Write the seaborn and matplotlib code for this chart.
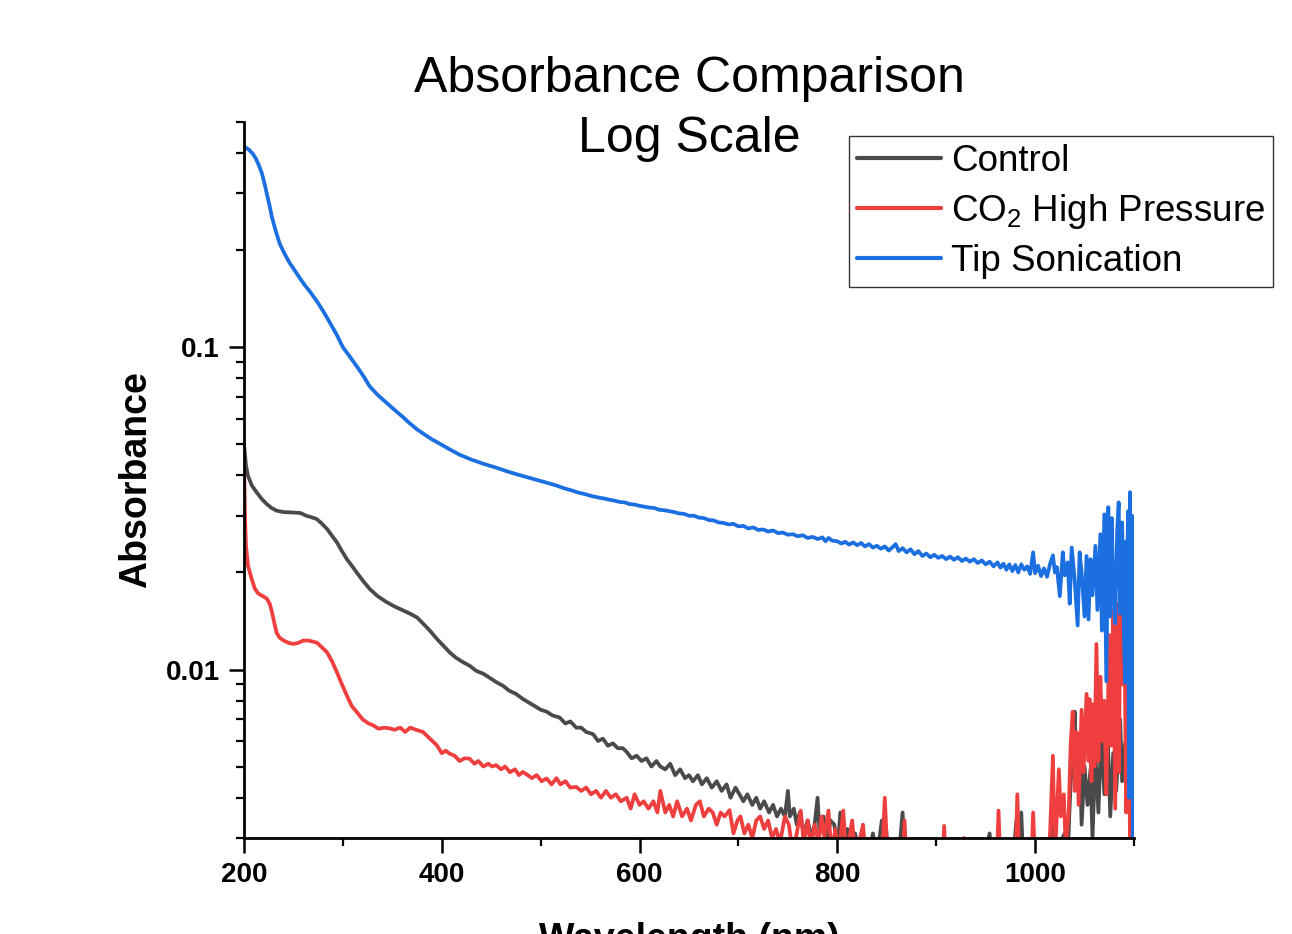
import matplotlib
matplotlib.use("Agg")
import matplotlib.pyplot as plt
from matplotlib import ticker
import pandas as pd
import seaborn as sns

# Control
control_wl = [200, 202, 204, 208, 213, 218, 223, 228, 233, 240, 250, 257, 263, 268, 273.5, 278, 284, 289, 294, 299,
              304, 309, 314, 320, 327, 335, 344, 352, 360, 368, 375, 381, 388, 395, 401, 408, 414, 420, 428, 435,
              442, 449, 455, 462, 468, 475, 482, 488, 494, 500, 506, 512, 519, 525, 530, 536, 541, 546, 553, 558,
              563, 568, 573, 578, 583, 587, 592, 597, 602, 607, 612, 617, 621, 626, 631, 636, 641, 646, 650, 654,
              659, 663, 668, 673, 678, 683, 688, 692, 697, 701, 705, 709, 714, 718, 722, 726, 731, 735, 739, 743,
              747, 750, 752, 756, 759, 762, 766, 770, 774, 777, 780, 782, 786, 789, 793, 797, 800, 803, 806, 810,
              814, 818, 822, 826, 830, 836, 840, 845, 849, 852, 857, 862, 866, 869, 875, 880, 890, 900, 910, 920,
              930, 940, 948, 954, 957, 965, 972, 978, 981, 983, 986, 988, 995, 1000, 1005, 1010, 1015, 1018, 1021, 1025,
              1030, 1033, 1036, 1038, 1040, 1042, 1045, 1047, 1050, 1053, 1056, 1058, 1061, 1064, 1067, 1070, 1073, 1076, 1079, 1082,
              1086, 1088, 1091, 1094, 1096, 1098, 1100]
control_abs = [0.050, 0.043, 0.0399, 0.0372, 0.0354, 0.0338, 0.0326, 0.0317, 0.0311, 0.0308, 0.0307, 0.0306, 0.0300, 0.0297, 0.0293, 0.0285, 0.0273, 0.0260, 0.0248, 0.0233,
               0.0220, 0.0210, 0.0200, 0.0189, 0.0178, 0.0169, 0.0162, 0.0157, 0.0153, 0.0149, 0.0145, 0.0139, 0.0132, 0.01245, 0.0119, 0.0113, 0.0109, 0.0106, 0.01028, 0.0099,
               0.0097, 0.0094, 0.00914, 0.0089, 0.0086, 0.0084, 0.0081, 0.0079, 0.0077, 0.0075, 0.0074, 0.0072, 0.0071, 0.0068, 0.0069, 0.0066, 0.0066, 0.0064, 0.0063, 0.0060,
               0.0061, 0.0058, 0.0059, 0.0057, 0.0057, 0.00555, 0.0053, 0.0054, 0.0052, 0.0053, 0.0050, 0.0052, 0.0050, 0.0049, 0.0051, 0.0047, 0.0049, 0.0046, 0.0047, 0.0045,
               0.0047, 0.0044, 0.0046, 0.0043, 0.0045, 0.0042, 0.0044, 0.0040, 0.0043, 0.0041, 0.0039, 0.0041, 0.0038, 0.0040, 0.0037, 0.0039, 0.0036, 0.0038, 0.0035, 0.0037,
               0.0035, 0.0042, 0.0035, 0.0037, 0.0033, 0.0036, 0.0031, 0.0034, 0.0030, 0.0033, 0.0040, 0.0031, 0.0035, 0.0029, 0.0034, 0.0033, 0.0027, 0.0036, 0.0028, 0.0032,
               0.0027, 0.0031, 0.0026, 0.0030, 0.0025, 0.0031, 0.0026, 0.0034, 0.0033, 0.0025, 0.0028, 0.0026, 0.0036, 0.0025, 0.0027, 0.0024, 0.0026, 0.0023, 0.0025, 0.0023,
               0.0026, 0.0024, 0.0026, 0.0031, 0.0024, 0.0027, 0.0023, 0.0026, 0.0034, 0.0027, 0.0036, 0.0025, 0.0028, 0.0024, 0.0027, 0.0025, 0.0030, 0.0034, 0.0026, 0.0029,
               0.0031, 0.0027, 0.0045, 0.0052, 0.0074, 0.0043, 0.0058, 0.0033, 0.0050, 0.0038, 0.0049, 0.0030, 0.0055, 0.0036, 0.0064, 0.0041, 0.0069, 0.0035, 0.0055, 0.0042,
               0.0070, 0.0045, 0.0059, 0.0062, 0.0033, 0.0055, 0.0028]

# CO2 High Pressure
co2_wl = [200, 201, 202, 204, 207.8, 211, 214.5, 219, 223, 226, 228, 231, 233, 236, 240, 245, 250, 255, 260, 265,
          270, 274, 279, 284, 289, 294, 299, 304, 309, 314, 320, 326, 331, 336, 342, 348, 352, 358, 363, 368,
          374, 381, 388, 395, 400, 404, 408, 413, 418, 423, 428, 433, 437, 442, 447, 451, 455, 460, 464, 469,
          474, 478, 482, 487, 491, 496, 501, 506, 511, 516, 520, 525, 530, 536, 541, 546, 551, 556, 561, 566,
          571, 576, 581, 587, 591, 595, 600, 604, 609, 614, 618, 621, 626, 630, 634, 638, 643, 648, 652, 657,
          661, 665, 670, 674, 678, 682, 686, 691, 695, 699, 702, 706, 710, 714, 718, 722, 726, 730, 734, 738,
          742, 747, 751, 755, 759, 763, 766, 770, 773, 777, 781, 784, 787, 791, 794, 798, 801, 806, 809, 815,
          818, 822, 826, 829, 836, 845, 848, 851, 860, 866, 868, 870, 880, 890, 900, 906, 908, 910, 920, 928,
          930, 940, 950, 961, 963, 965, 972, 980, 982, 984, 990, 996, 998, 1000, 1008, 1014, 1018, 1020, 1024, 1026,
          1029, 1031, 1034, 1036, 1038, 1040, 1042, 1044, 1047, 1049, 1052, 1054, 1055, 1057, 1058, 1060, 1062, 1064, 1066, 1068,
          1070, 1072, 1075, 1077, 1079, 1081, 1083, 1085, 1086, 1088, 1090, 1092, 1094, 1096, 1098]
co2_abs = [0.044, 0.030, 0.0242, 0.0210, 0.0191, 0.0178, 0.0172, 0.0169, 0.0166, 0.0160, 0.0152, 0.0138, 0.0130, 0.01255, 0.0123, 0.0121, 0.0120, 0.0121, 0.0123, 0.0123,
           0.0122, 0.0121, 0.0117, 0.0113, 0.0106, 0.0098, 0.0090, 0.0083, 0.0077, 0.00738, 0.0070, 0.0068, 0.0067, 0.00655, 0.0066, 0.00656, 0.0065, 0.0066, 0.0064, 0.0066,
           0.0065, 0.0064, 0.0061, 0.00582, 0.0055, 0.0056, 0.00548, 0.0054, 0.0052, 0.0053, 0.00529, 0.0051, 0.0052, 0.0050, 0.0051, 0.0050, 0.00505, 0.0049, 0.0050, 0.0048,
           0.0049, 0.0047, 0.00481, 0.0047, 0.0046, 0.0047, 0.0045, 0.00459, 0.0044, 0.0046, 0.0044, 0.0045, 0.0043, 0.00432, 0.0042, 0.0043, 0.0041, 0.0042, 0.0040, 0.0042,
           0.0040, 0.0041, 0.0039, 0.0040, 0.0037, 0.0041, 0.0038, 0.0039, 0.0037, 0.0039, 0.0036, 0.0042, 0.0036, 0.0038, 0.0035, 0.0039, 0.0035, 0.0037, 0.0034, 0.0038,
           0.0039, 0.0035, 0.0037, 0.0036, 0.0033, 0.0036, 0.0035, 0.00366, 0.0031, 0.0034, 0.0035, 0.0031, 0.0033, 0.0030, 0.0034, 0.0035, 0.0032, 0.0034, 0.0030, 0.0032,
           0.0029, 0.0035, 0.0033, 0.0027, 0.0031, 0.00365, 0.0029, 0.0034, 0.0028, 0.0033, 0.0029, 0.0035, 0.0030, 0.00365, 0.0027, 0.0032, 0.0026, 0.00365, 0.0026, 0.0034,
           0.0026, 0.0029, 0.0033, 0.0025, 0.0027, 0.0025, 0.0040, 0.0025, 0.0026, 0.0024, 0.0034, 0.0024, 0.0026, 0.0024, 0.0026, 0.0024, 0.00327, 0.0024, 0.0025, 0.0030,
           0.0024, 0.0025, 0.0023, 0.0024, 0.00365, 0.0024, 0.0026, 0.0024, 0.0041, 0.0025, 0.0026, 0.0024, 0.0036, 0.0025, 0.0026, 0.0025, 0.0054, 0.0026, 0.0049, 0.0035,
           0.0041, 0.0028, 0.0036, 0.0059, 0.0074, 0.0042, 0.0064, 0.0038, 0.0075, 0.0048, 0.0084, 0.0052, 0.0081, 0.0045, 0.0078, 0.0050, 0.0120, 0.0052, 0.0095, 0.0060,
           0.0080, 0.0041, 0.0128, 0.0058, 0.0153, 0.0037, 0.0160, 0.0048, 0.0222, 0.0090, 0.0185, 0.0036, 0.0140, 0.0028, 0.0015]

# Tip Sonication
tip_wl = [200, 205, 209, 212, 215, 218, 221, 223, 226, 228, 232, 236, 241, 246, 253, 260, 268, 275, 281, 287,
          294, 300, 307, 314, 321, 327, 335, 344, 352, 360, 367, 375, 383, 390, 399, 408, 418, 430, 442, 455,
          467, 480, 493, 506, 515, 525, 532, 538, 545, 552, 560, 565, 570, 575, 580, 585, 590, 595, 600, 605,
          610, 615, 620, 625, 630, 635, 640, 645, 650, 655, 660, 665, 670, 675, 680, 685, 690, 695, 700, 705,
          710, 715, 720, 725, 730, 735, 740, 745, 750, 755, 760, 765, 770, 775, 780, 785, 788, 791, 795, 800,
          804, 808, 812, 816, 820, 824, 828, 832, 836, 840, 844, 848, 852, 856, 859, 862, 866, 870, 874, 878,
          882, 886, 890, 894, 898, 902, 906, 910, 914, 918, 922, 926, 930, 934, 938, 942, 946, 950, 954, 958,
          962, 965, 968, 971, 974, 977, 980, 983, 986, 989, 992, 995, 998, 1000, 1003, 1006, 1009, 1012, 1015, 1018,
          1020, 1022, 1025, 1028, 1030, 1033, 1035, 1037, 1040, 1043, 1045, 1047, 1050, 1052, 1054, 1056, 1058, 1061, 1063, 1066,
          1067.5, 1070, 1072, 1074, 1076, 1077.5, 1079, 1081, 1083, 1084.5, 1086, 1088, 1090, 1091, 1092, 1093, 1094, 1095, 1096, 1097,
          1098, 1099, 1100]
tip_abs = [0.420, 0.410, 0.398, 0.385, 0.367, 0.347, 0.320, 0.300, 0.274, 0.255, 0.230, 0.210, 0.195, 0.183, 0.170, 0.158, 0.147, 0.137, 0.128, 0.119,
           0.109, 0.100, 0.0935, 0.0873, 0.0812, 0.0757, 0.0712, 0.0673, 0.0640, 0.0610, 0.0583, 0.0556, 0.0535, 0.0518, 0.0500, 0.0482, 0.0464, 0.0448, 0.0435, 0.0423,
           0.0411, 0.0400, 0.0390, 0.0380, 0.0373, 0.0364, 0.0359, 0.0354, 0.0350, 0.0345, 0.0341, 0.0339, 0.0336, 0.0334, 0.0331, 0.0330, 0.0326, 0.0325, 0.0322, 0.0320,
           0.0318, 0.0317, 0.0313, 0.0312, 0.0310, 0.0308, 0.0305, 0.0304, 0.0300, 0.0300, 0.0296, 0.0295, 0.0291, 0.0290, 0.0286, 0.0285, 0.0282, 0.0283, 0.0278, 0.0279,
           0.0274, 0.0276, 0.0271, 0.0272, 0.0268, 0.0270, 0.0265, 0.0266, 0.0262, 0.0263, 0.0259, 0.0261, 0.0256, 0.0258, 0.0254, 0.0257, 0.0250, 0.0256, 0.0251, 0.0250,
           0.0246, 0.0249, 0.0244, 0.0248, 0.0243, 0.0247, 0.0241, 0.0245, 0.0239, 0.0242, 0.0237, 0.0241, 0.0234, 0.0240, 0.0245, 0.0233, 0.0238, 0.0231, 0.0236, 0.0228,
           0.0233, 0.0225, 0.0229, 0.0223, 0.0227, 0.0222, 0.0225, 0.0220, 0.0224, 0.0219, 0.0223, 0.0217, 0.0221, 0.0216, 0.0220, 0.0214, 0.0218, 0.0212, 0.0216, 0.0209,
           0.0215, 0.0207, 0.0213, 0.0204, 0.0212, 0.0202, 0.0211, 0.0200, 0.0212, 0.0204, 0.0209, 0.0198, 0.0231, 0.0199, 0.0210, 0.0195, 0.0206, 0.0194, 0.0212, 0.0226,
           0.0200, 0.0208, 0.0169, 0.0231, 0.0196, 0.0215, 0.0160, 0.0239, 0.0190, 0.0137, 0.0231, 0.0200, 0.0146, 0.0225, 0.0143, 0.0220, 0.0170, 0.0242, 0.0153, 0.0263,
           0.0132, 0.0303, 0.0092, 0.0319, 0.0146, 0.0295, 0.0180, 0.0139, 0.0270, 0.0330, 0.0149, 0.0286, 0.0120, 0.0091, 0.0250, 0.0200, 0.0310, 0.0040, 0.0355, 0.0060,
           0.0300, 0.0022, 0.0015]

series_names = ["Control", "CO$_2$ High Pressure", "Tip Sonication"]
series_colors = ["#4a4a4a", "#ef3e3e", "#1b6fe0"]


def main():
    sns.set_theme(style="ticks")
    plt.rcParams["font.family"] = ["Liberation Sans", "DejaVu Sans"]
    plt.rcParams["mathtext.default"] = "regular"
    # 글자색은 검정으로
    for key in ["text.color", "axes.labelcolor", "xtick.color", "ytick.color", "axes.edgecolor"]:
        plt.rcParams[key] = "black"

    fig = plt.figure(figsize=(12.92, 9.34), dpi=100)
    ax = fig.add_axes([244 / 1292, 1 - 838 / 934, 890 / 1292, 716 / 934])

    frames = [
        pd.DataFrame({"wl": control_wl, "abs": control_abs}),
        pd.DataFrame({"wl": co2_wl, "abs": co2_abs}),
        pd.DataFrame({"wl": tip_wl, "abs": tip_abs}),
    ]
    for df, name, color in zip(frames, series_names, series_colors):
        sns.lineplot(data=df, x="wl", y="abs", ax=ax, color=color, linewidth=2.7,
                     label=name, estimator=None)

    ax.set_yscale("log")
    ax.set_xlim(200, 1100)
    ax.set_ylim(0.003, 0.5)

    # 축 눈금
    ax.set_xticks([200, 400, 600, 800, 1000])
    ax.xaxis.set_minor_locator(ticker.MultipleLocator(100))
    ax.set_yticks([0.01, 0.1])
    ax.set_yticklabels(["0.01", "0.1"])
    ax.yaxis.set_minor_locator(ticker.LogLocator(base=10, subs=[2, 3, 4, 5, 6, 7, 8, 9]))
    ax.yaxis.set_minor_formatter(ticker.NullFormatter())

    ax.tick_params(axis="both", which="major", direction="out", length=10.5, width=1.8,
                   labelsize=20, pad=7, color="black", labelcolor="black")
    ax.tick_params(axis="both", which="minor", direction="out", length=5.5, width=1.6, color="black")
    for lbl in ax.get_xticklabels() + ax.get_yticklabels():
        lbl.set_fontweight("bold")

    sns.despine(ax=ax)
    for side in ["left", "bottom"]:
        ax.spines[side].set_linewidth(2.0)
        ax.spines[side].set_color("black")

    ax.set_xlabel("Wavelength (nm)", fontsize=27, fontweight="bold", labelpad=24, color="black")
    ax.set_ylabel("Absorbance", fontsize=27, fontweight="bold", labelpad=8, color="black")

    fig.text(689 / 1292, 1 - 56 / 934, "Absorbance Comparison\nLog Scale", ha="center", va="top",
             fontsize=36, linespacing=1.38, color="black")

    leg = ax.legend(loc="upper right", bbox_to_anchor=(1.156, 0.980), borderaxespad=0,
                    fontsize=26.5, frameon=True, fancybox=False, framealpha=1,
                    handlelength=2.3, handletextpad=0.27, labelspacing=0.36, borderpad=0.2)
    leg.get_frame().set_edgecolor("#333333")
    leg.get_frame().set_linewidth(1.0)
    for text in leg.get_texts():
        text.set_color("black")
    for line in leg.get_lines():
        line.set_linewidth(3.0)

    fig.savefig("out.png", dpi=100)
    plt.close(fig)


if __name__ == "__main__":
    main()
